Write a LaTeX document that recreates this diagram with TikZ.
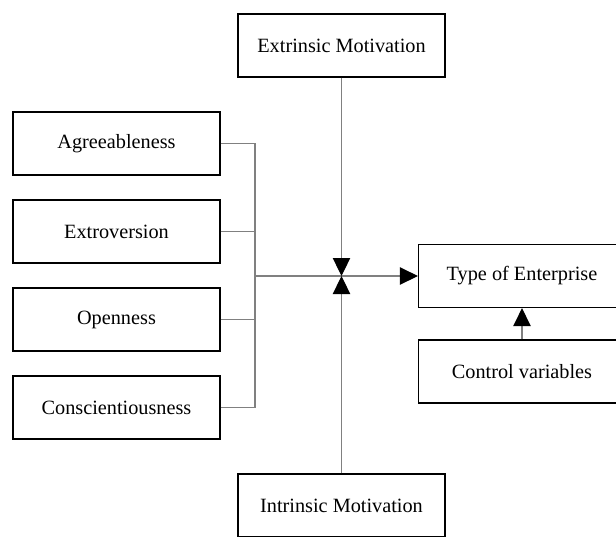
\documentclass[tikz,border=0pt]{standalone}
\usepackage{fontspec}
\setmainfont{Liberation Serif}
\usetikzlibrary{arrows.meta}
\tikzset{
  factor/.style={draw=black, line width=1.1pt, minimum width=155pt, minimum height=47pt,
    inner sep=0pt, font=\fontsize{15.2}{18}\selectfont},
  link/.style={draw=gray, line width=0.8pt},
  head/.style={-{Triangle[length=13.5pt, width=13pt, color=black]}}
}

\begin{document}
\begin{tikzpicture}[x=0.75pt, y=-0.75pt]
\clip (0,0) rectangle (616,536);
% personality traits on the left
\foreach \nm/\lab [count=\i from 0] in {agr/Agreeableness, ext/Extroversion, ope/Openness, con/Conscientiousness}{%
  \node[factor] (\nm) at ({116.5}, {143.5+88*\i}) {\lab};}
% motivations, outcome, controls
\node[factor] (exm) at (341.5, 45.5) {Extrinsic Motivation};
\node[factor] (inm) at (341.5, 505.5) {Intrinsic Motivation};
\node[factor] (toe) at (522, 276) {Type of Enterprise};
\node[factor] (cv) at (522, 371.5) {Control variables};
\coordinate (brk) at (255, 276);
\coordinate (hub) at (exm.south |- brk);
% connectors
\draw[link] (agr.east) -| (brk);
\draw[link] (con.east) -| (brk);
\draw[link] (ext.east) -- (ext.east -| brk);
\draw[link] (ope.east) -- (ope.east -| brk);
\draw[link, head] (brk) -- (toe.west);
\draw[link, head] (exm.south) -- (hub);
\draw[link, head] (inm.north) -- (hub);
\draw[link, head] (cv.north) -- (toe.south);
\end{tikzpicture}
\end{document}
